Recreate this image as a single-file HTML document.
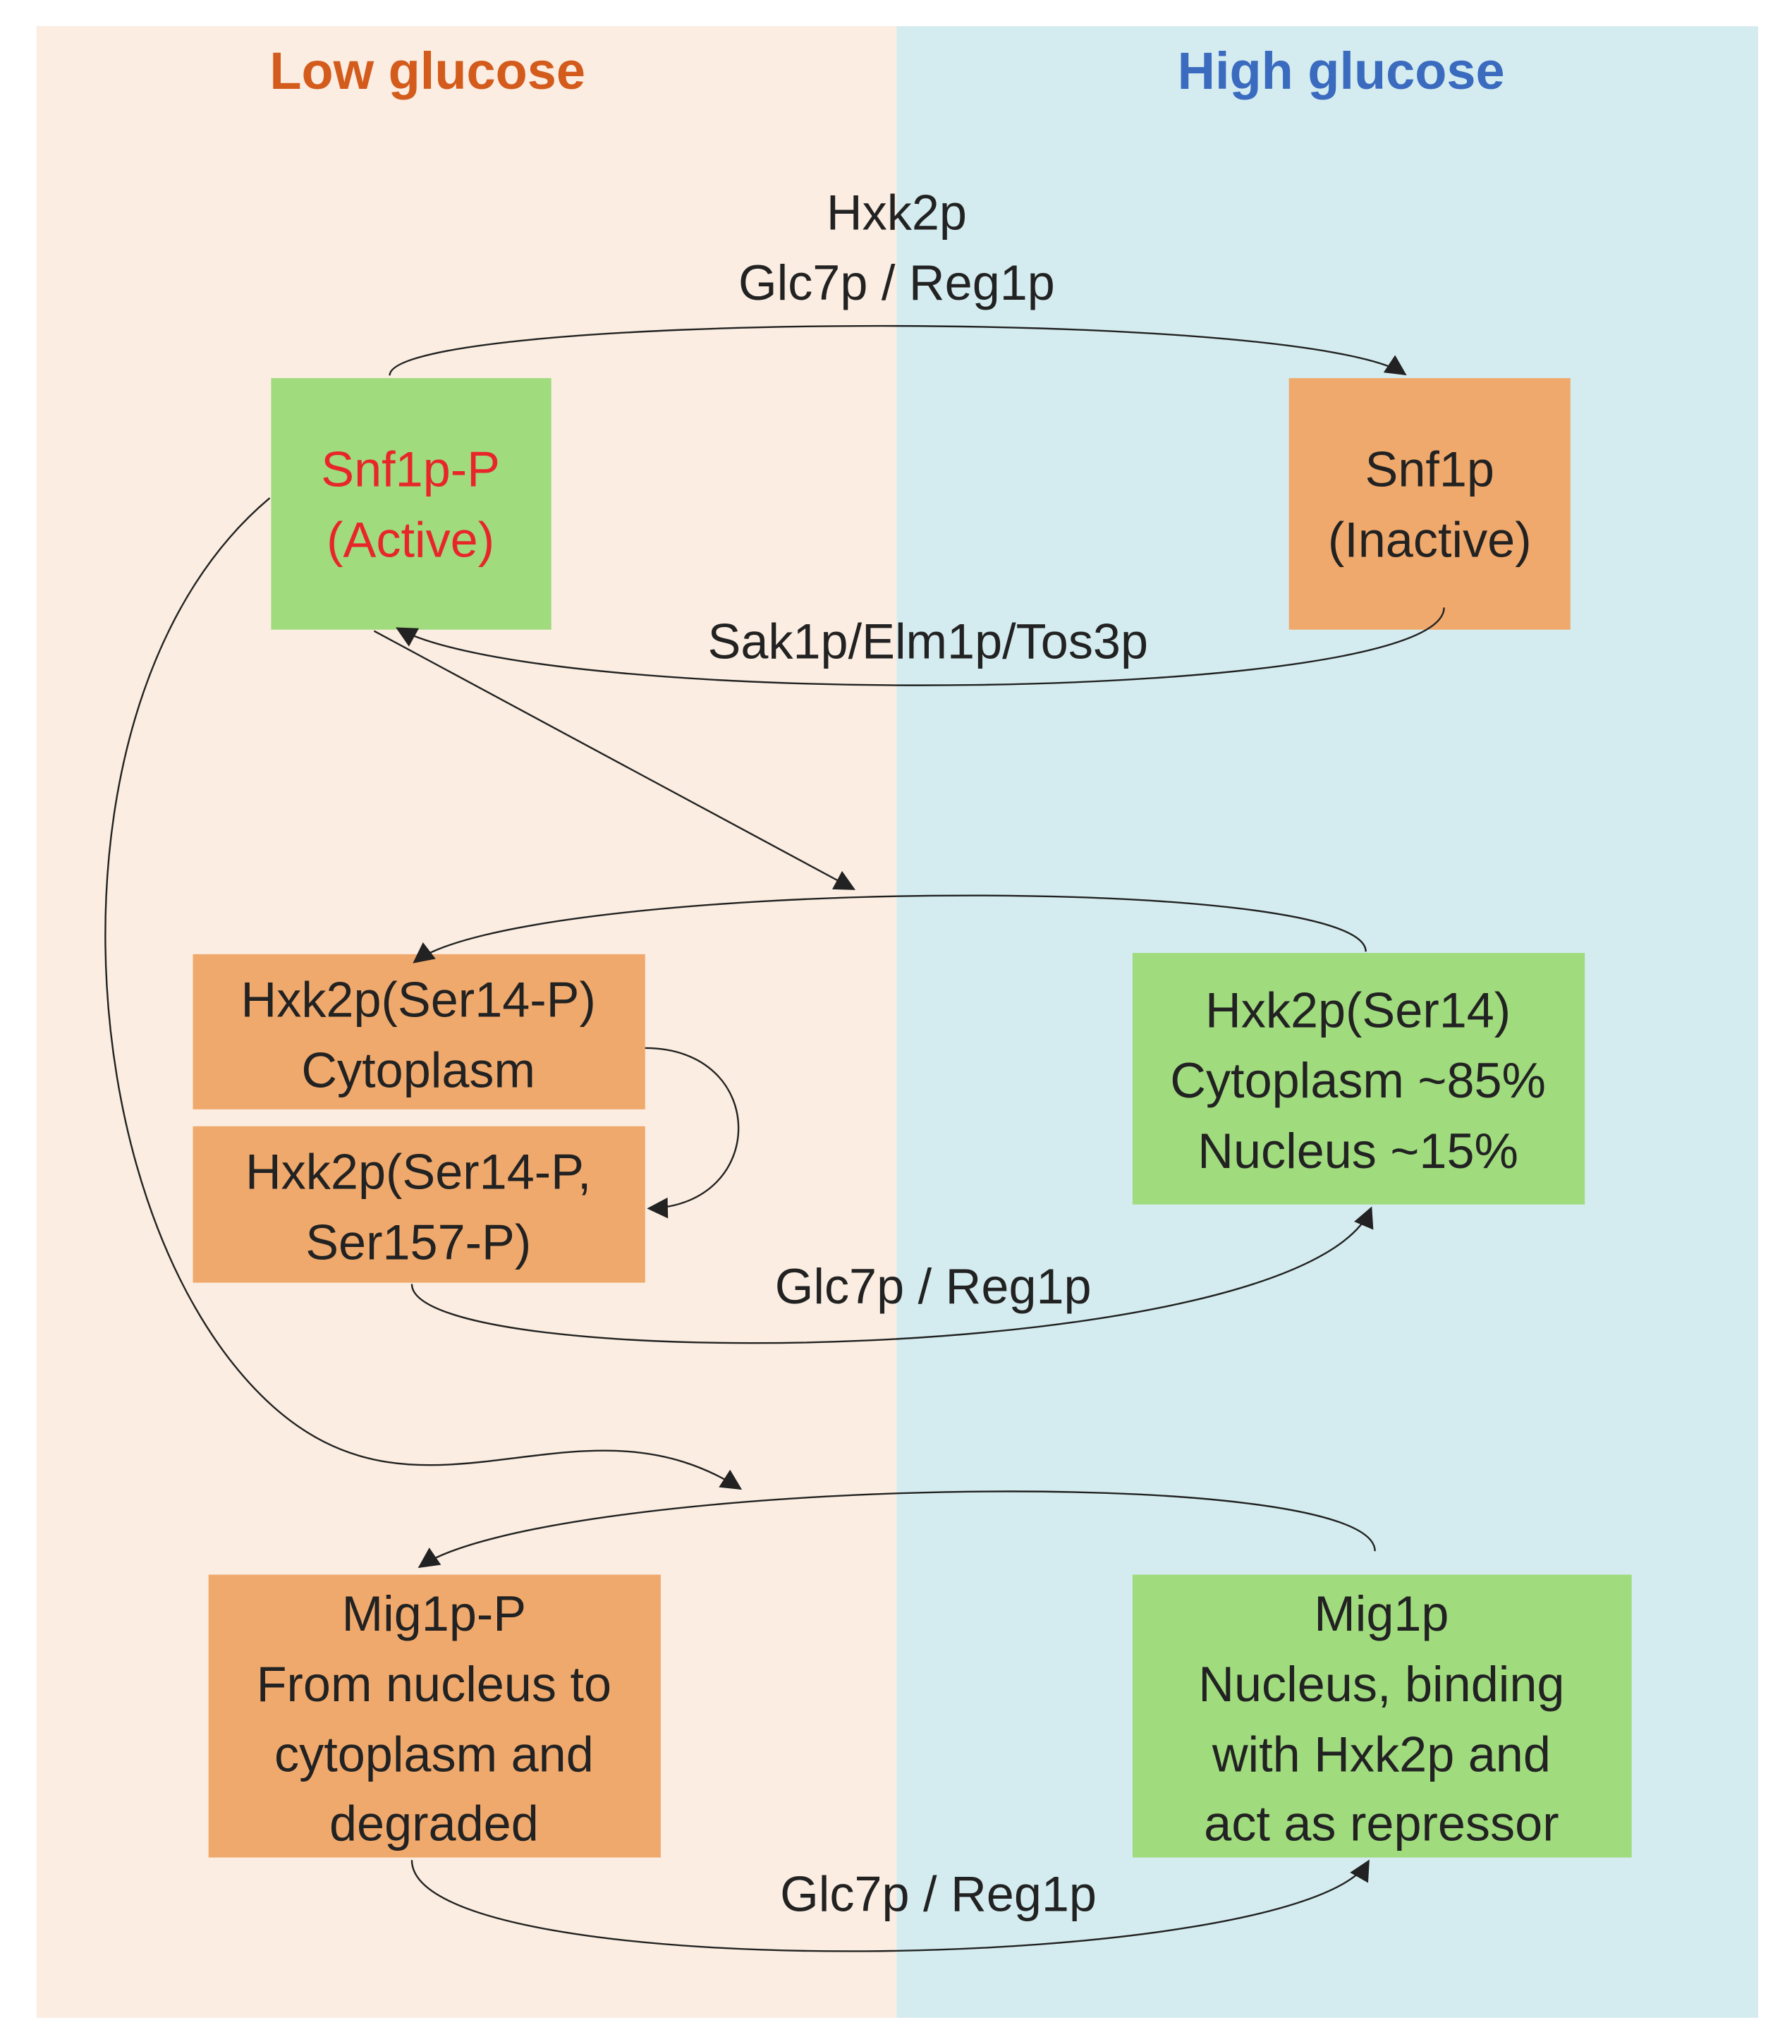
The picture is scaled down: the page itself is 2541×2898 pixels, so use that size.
<!DOCTYPE html>
<html><head><meta charset="utf-8"><style>html,body{margin:0;padding:0;background:#fff}svg{display:block}</style></head>
<body>
<svg width="2541" height="2898" viewBox="0 0 1375 1568" xmlns="http://www.w3.org/2000/svg" font-family="Liberation Sans, sans-serif">
<defs>
<marker id="b" viewBox="0 0 10 10" refX="9" refY="5" markerWidth="20" markerHeight="16" orient="auto" markerUnits="userSpaceOnUse"><path d="M0,0 L10,5 L0,10 z" fill="#222"/></marker></defs>
<rect x="28" y="20" width="660" height="1528" fill="#FBEDE1"/>
<rect x="688" y="20" width="661" height="1528" fill="#D4ECF0"/>
<text x="328" y="68" text-anchor="middle" font-size="40" font-weight="bold" fill="#D35B1C">Low glucose</text>
<text x="1029" y="68" text-anchor="middle" font-size="40" font-weight="bold" fill="#3A6BBF">High glucose</text>
<g font-size="38" fill="#222" text-anchor="middle">
<text x="688" y="176">Hxk2p</text>
<text x="688" y="230">Glc7p / Reg1p</text>
<text x="712" y="505">Sak1p/Elm1p/Tos3p</text>
<text x="716" y="1000">Glc7p / Reg1p</text>
<text x="720" y="1466">Glc7p / Reg1p</text>
</g>
<rect x="208" y="290" width="215" height="193" fill="#A0DB7E"/>
<rect x="989" y="290" width="216" height="193" fill="#F0A96C"/>
<rect x="148" y="732" width="347" height="119" fill="#F0A96C"/>
<rect x="148" y="864" width="347" height="120" fill="#F0A96C"/>
<rect x="869" y="731" width="347" height="193" fill="#A0DB7E"/>
<rect x="160" y="1208" width="347" height="217" fill="#F0A96C"/>
<rect x="869" y="1208" width="383" height="217" fill="#A0DB7E"/>
<g font-size="38" text-anchor="middle" fill="#222">
<text x="315" y="373" fill="#E8262A">Snf1p-P</text>
<text x="315" y="427" fill="#E8262A">(Active)</text>
<text x="1097" y="373">Snf1p</text>
<text x="1097" y="427">(Inactive)</text>
<text x="321" y="780">Hxk2p(Ser14-P)</text>
<text x="321" y="834">Cytoplasm</text>
<text x="321" y="912">Hxk2p(Ser14-P,</text>
<text x="321" y="966">Ser157-P)</text>
<text x="1042" y="788">Hxk2p(Ser14)</text>
<text x="1042" y="842">Cytoplasm ~85%</text>
<text x="1042" y="896">Nucleus ~15%</text>
<text x="333" y="1251">Mig1p-P</text>
<text x="333" y="1305">From nucleus to</text>
<text x="333" y="1359">cytoplasm and</text>
<text x="333" y="1412">degraded</text>
<text x="1060" y="1251">Mig1p</text>
<text x="1060" y="1305">Nucleus, binding</text>
<text x="1060" y="1359">with Hxk2p and</text>
<text x="1060" y="1412">act as repressor</text>
</g>
<g fill="none" stroke="#222" stroke-width="1.3" marker-end="url(#b)">
<path d="M299 288 C299 240 1000 235 1078 287"/>
<path d="M1108 466 C1108 540 420 545 305 482"/>
<path d="M287 484 L655 682"/>
<path d="M1048 730 C1048 668 400 675 318 738"/>
<path d="M495 804 C590 804 590 925 498 927"/>
<path d="M316 985 C316 1055 1000 1050 1052 927"/>
<path d="M207 382 C30 530 50 920 200 1070 C320 1190 440 1060 568 1142"/>
<path d="M1055 1190 C1055 1120 420 1135 322 1202"/>
<path d="M316 1427 C316 1525 1000 1515 1050 1428"/>
</g>
</svg>
</body></html>
